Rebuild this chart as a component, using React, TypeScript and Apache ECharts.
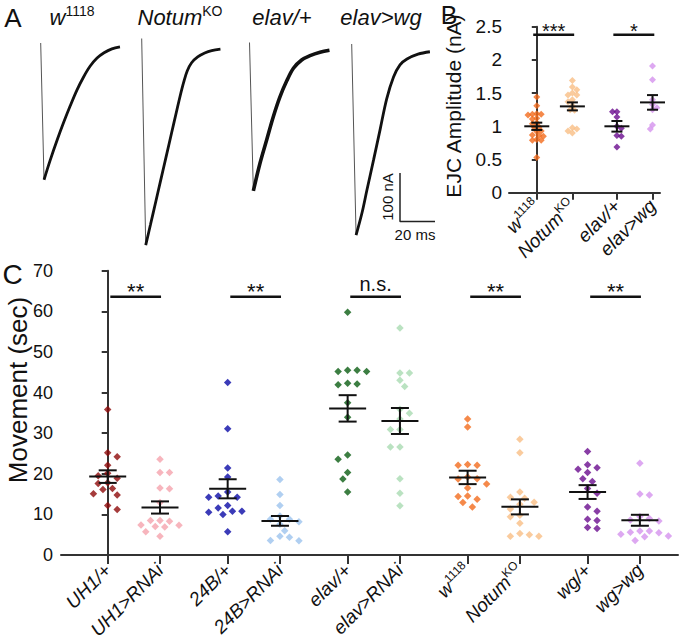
import { useEffect, useRef } from 'react';
import * as echarts from 'echarts';

const FONT = '"Liberation Sans", Arial, Helvetica, sans-serif';
const AXIS_COLOR = '#333';
const TEXT_COLOR = '#111';

// ---------- Panel A: EJC traces [time (ms), current (nA)] ----------
const traceTitles = ['w1118', 'NotumKO', 'elav/+', 'elav>wg'];
const traceW1118 = [[0, 0], [1.9, -282], [5.3, -243], [9.6, -198], [13.3, -162], [16.7, -131], [20.7, -97], [24.5, -70], [28.2, -48], [32.2, -31], [36.2, -20], [40.7, -12], [45.3, -8]];
const traceNotum = [[0, 0], [2.3, -426], [5, -384], [8, -337], [11, -290], [14, -243], [17, -196], [20, -149], [22, -118], [24, -90], [26, -67], [28.5, -50], [32, -38], [36, -30], [40, -25], [45, -22]];
const traceElav = [[0, 0], [2.2, -306], [6, -249], [9.8, -201], [13.6, -153], [17.4, -112], [21.3, -79], [25.1, -53], [29.8, -36], [34.6, -27], [40.3, -20], [45.7, -16]];
const traceElavWg = [[0, 0], [2.5, -394], [5.9, -348], [8.7, -301], [12.5, -239], [16.2, -177], [20, -113], [23.9, -68], [27.6, -43], [31.6, -31], [37.9, -21], [44.7, -16]];
const traces = [traceW1118, traceNotum, traceElav, traceElavWg];
const scaleBarTime = 20; // ms
const scaleBarCurrent = 100; // nA

// ---------- Panel B: EJC amplitude (nA) ----------
const ejcCategories = ['w1118', 'NotumKO', 'elav/+', 'elav>wg'];
const ejcW1118 = [1.44, 1.31, 1.19, 1.18, 1.18, 1.17, 1.12, 1.11, 1.05, 1.04, 0.99, 0.98, 0.93, 0.92, 0.87, 0.86, 0.85, 0.8, 0.79, 0.79, 0.53];
const ejcNotum = [1.69, 1.59, 1.55, 1.5, 1.47, 1.47, 1.4, 1.37, 1.31, 1.25, 1.24, 0.98, 0.96, 0.93, 0.9];
const ejcElav = [1.22, 1.22, 1.14, 1.0, 0.97, 0.86, 0.85, 0.69];
const ejcElavWg = [1.91, 1.7, 1.4, 1.33, 1.28, 1.25, 1.02, 0.96];
const ejcValues = [ejcW1118, ejcNotum, ejcElav, ejcElavWg];
const ejcMeans = [1.0, 1.3, 1.0, 1.36];
const ejcSems = [0.055, 0.06, 0.08, 0.11];
const ejcColors = ['#F26B1D', '#F9BE85', '#6A0D8E', '#D592EE'];
const ejcSig = ['***', '*'];
const ejcSigLevel = 2.38;

// ---------- Panel C: Movement (sec) ----------
const moveCategories = ['UH1/+', 'UH1>RNAi', '24B/+', '24B>RNAi', 'elav/+', 'elav>RNAi', 'w1118', 'NotumKO', 'wg/+', 'wg>wg'];
const moveUH1 = [35.8, 25.2, 24.2, 22.1, 20.1, 19.5, 18.9, 17.8, 17.6, 16.4, 16.1, 15.1, 14.8, 12.2, 11.2];
const moveUH1Rnai = [23.6, 20.3, 20.3, 16.5, 16.3, 12.9, 8.5, 8.5, 8.3, 7.4, 7.3, 7.0, 6.9, 5.7, 4.6];
const move24B = [42.5, 31.1, 21.4, 19.2, 15.5, 14.5, 14.2, 14.2, 12.2, 11.6, 10.8, 10.8, 10.5, 10.0, 5.7];
const move24BRnai = [18.6, 14.9, 12.2, 9.6, 8.8, 8.8, 8.2, 7.6, 6.0, 4.6, 4.4, 3.6, 3.5];
const moveElav = [59.8, 45.5, 45.5, 45.2, 45.2, 42.3, 42.1, 41.9, 37.5, 33.9, 24.6, 23.6, 20.3, 18.7, 15.5];
const moveElavRnai = [55.9, 44.8, 44.8, 43.0, 41.5, 35.9, 34.9, 33.5, 30.9, 30.9, 26.6, 26.6, 18.8, 15.2, 12.1];
const moveW1118 = [33.5, 31.5, 22.3, 22.1, 22.1, 19.2, 18.8, 18.7, 17.5, 16.5, 14.5, 14.4, 13.7, 12.9, 11.8];
const moveNotum = [28.5, 25.2, 15.5, 14.2, 14.0, 13.0, 12.5, 11.3, 9.8, 9.4, 7.8, 5.3, 5.0, 4.6, 4.6];
const moveWg = [25.5, 22.2, 21.5, 21.1, 20.3, 18.8, 18.1, 16.4, 15.2, 11.8, 10.8, 8.8, 8.5, 6.8, 6.5];
const moveWgWg = [22.6, 15.0, 14.8, 9.5, 9.0, 8.6, 8.4, 5.9, 5.9, 5.6, 5.5, 5.1, 4.7, 4.5, 3.6];
const moveValues = [moveUH1, moveUH1Rnai, move24B, move24BRnai, moveElav, moveElavRnai, moveW1118, moveNotum, moveWg, moveWgWg];
const moveMeans = [19.3, 11.7, 16.3, 8.4, 36.1, 33.0, 19.1, 11.85, 15.5, 8.55];
const moveSems = [1.55, 1.5, 2.35, 1.2, 3.25, 3.2, 1.65, 1.85, 1.7, 1.35];
const moveColors = ['#8E0A0A', '#F5A3AC', '#0A0AA6', '#9CC3EE', '#0B5E13', '#A9DBB2', '#F26B1D', '#F9BE85', '#6A0D8E', '#D592EE'];
const moveSig = ['**', '**', 'n.s.', '**', '**'];
const moveSigLevel = 63.6;

// ---------- layout ----------
const W = 683;
const H = 644;
const A_LEFT = [40.7, 141.7, 249.5, 351.7];
const A_TOP = [43, 38.5, 42.5, 44];
const A_W = 87.5; // 50 ms
const A_H = 218.25; // 450 nA

const B_LEFT = 509, B_TOP = 26.7, B_RIGHT = 23, B_BOTTOM = 451.3;
const B_XMIN = -0.78, B_XMAX = 3.46, B_YMAX = 2.5;
const C_LEFT = 61, C_TOP = 270.7, C_RIGHT = 5, C_BOTTOM = 89;
const C_XMIN = -0.893, C_XMAX = 10.905, C_YMAX = 70;

const posB = (i: number) => Math.floor(i / 2) * 2.25 + (i % 2);
const posC = (i: number) => Math.floor(i / 2) * 2.294 + (i % 2);

function swarm(values: number[], pxY: number, step: number, minDist: number): number[] {
  const order = values.map((_, i) => i).sort((a, b) => values[b] - values[a]);
  const placed: { x: number; y: number }[] = [];
  const out = new Array(values.length).fill(0);
  order.forEach((i, n) => {
    const y = values[i] * pxY;
    const sign = n % 2 === 0 ? 1 : -1;
    let chosen = 0;
    for (let k = 0; k < 60; k++) {
      const cand = k === 0 ? 0 : (k % 2 ? sign : -sign) * Math.ceil(k / 2) * step;
      if (placed.every((p) => Math.hypot(p.x - cand, p.y - y) >= minDist)) {
        chosen = cand;
        break;
      }
    }
    placed.push({ x: chosen, y });
    out[i] = chosen;
  });
  return out;
}

function richName(name: string): string {
  if (name === 'w1118') return '{i|w}{s|1118}';
  if (name === 'NotumKO') return '{i|Notum}{s|KO}';
  return '{i|' + name + '}';
}

function nearestIndex(v: number, posFn: (i: number) => number, n: number) {
  let best = 0;
  for (let i = 0; i < n; i++) if (Math.abs(posFn(i) - v) < Math.abs(posFn(best) - v)) best = i;
  return best;
}

function meanSemSeries(gridIdx: number, data: number[][], hw: number, cw: number) {
  return {
    type: 'custom',
    xAxisIndex: gridIdx,
    yAxisIndex: gridIdx,
    z: 10,
    encode: { x: 0, y: 1 },
    data,
    renderItem: (_p: any, api: any) => {
      const x = api.value(0), m = api.value(1), s = api.value(2);
      const c = api.coord([x, m]);
      const t = api.coord([x, m + s]);
      const b = api.coord([x, m - s]);
      const st = { stroke: '#111', lineWidth: 2 };
      return {
        type: 'group',
        children: [
          { type: 'line', shape: { x1: c[0] - hw, y1: c[1], x2: c[0] + hw, y2: c[1] }, style: st },
          { type: 'line', shape: { x1: t[0], y1: t[1], x2: b[0], y2: b[1] }, style: st },
          { type: 'line', shape: { x1: t[0] - cw, y1: t[1], x2: t[0] + cw, y2: t[1] }, style: st },
          { type: 'line', shape: { x1: b[0] - cw, y1: b[1], x2: b[0] + cw, y2: b[1] }, style: st },
        ],
      };
    },
  };
}

function sigSeries(gridIdx: number, data: number[][], labels: string[], fontSize: number, nsFont: number, starOff: number, nsOff: number) {
  return {
    type: 'custom',
    xAxisIndex: gridIdx,
    yAxisIndex: gridIdx,
    z: 10,
    encode: { x: [0, 1], y: 2 },
    data,
    renderItem: (p: any, api: any) => {
      const a = api.coord([api.value(0), api.value(2)]);
      const b = api.coord([api.value(1), api.value(2)]);
      const label = labels[p.dataIndex];
      const ns = label === 'n.s.';
      return {
        type: 'group',
        children: [
          { type: 'line', shape: { x1: a[0], y1: a[1], x2: b[0], y2: b[1] }, style: { stroke: '#111', lineWidth: 2.5 } },
          {
            type: 'text',
            x: (a[0] + b[0]) / 2,
            y: a[1] + (ns ? nsOff : starOff),
            style: {
              text: label,
              fill: TEXT_COLOR,
              fontSize: ns ? nsFont : fontSize,
              fontFamily: FONT,
              align: 'center',
              verticalAlign: 'middle',
              textAlign: 'center',
              textVerticalAlign: 'middle',
            },
          },
        ],
      };
    },
  };
}

function buildOption() {
  const grids: any[] = [];
  const xAxes: any[] = [];
  const yAxes: any[] = [];
  const series: any[] = [];

  // Panel A grids
  traces.forEach((tr, k) => {
    grids.push({ left: A_LEFT[k], top: A_TOP[k], width: A_W, height: A_H, outerBoundsMode: 'none' });
    xAxes.push({ type: 'value', gridIndex: k, min: 0, max: 50, show: false });
    yAxes.push({ type: 'value', gridIndex: k, min: -450, max: 0, show: false });
    let minIdx = 0;
    tr.forEach((p, i) => { if (p[1] < tr[minIdx][1]) minIdx = i; });
    series.push({
      type: 'line', xAxisIndex: k, yAxisIndex: k, data: tr.slice(0, minIdx + 1),
      showSymbol: false, lineStyle: { color: '#555', width: 1 }, silent: true,
    });
    series.push({
      type: 'line', xAxisIndex: k, yAxisIndex: k, data: tr.slice(minIdx),
      showSymbol: false, smooth: 0.35, lineStyle: { color: '#111', width: k === 2 ? 3.6 : 2.8 }, silent: true,
    });
  });
  // scale bar in last trace's coordinates
  const sbX = 27.6, sbY = -366;
  series.push({
    type: 'line', xAxisIndex: 3, yAxisIndex: 3,
    data: [[sbX, sbY + scaleBarCurrent], [sbX, sbY], [sbX + scaleBarTime, sbY]],
    showSymbol: false, lineStyle: { color: '#222', width: 1.5 }, silent: true,
  });

  const axisLineStyle = { color: AXIS_COLOR, width: 2 };
  const catRich = (fs: number) => ({
    i: { fontStyle: 'italic', fontSize: fs, fontFamily: FONT, color: TEXT_COLOR, lineHeight: fs + 4 },
    s: { fontSize: Math.round(fs * 0.65), fontFamily: FONT, color: TEXT_COLOR, verticalAlign: 'top', lineHeight: fs + 4 },
  });

  // Panel B grid (index 4)
  grids.push({ left: B_LEFT, top: B_TOP, right: B_RIGHT, bottom: B_BOTTOM, outerBoundsMode: 'none' });
  const bPos = ejcCategories.map((_, i) => posB(i));
  xAxes.push({
    type: 'value', gridIndex: 4, min: B_XMIN, max: B_XMAX,
    axisLine: { show: true, lineStyle: axisLineStyle },
    axisTick: { show: true, customValues: bPos, length: 7, lineStyle: axisLineStyle },
    axisLabel: {
      customValues: bPos, rotate: 45, margin: 10,
      formatter: (v: number) => richName(ejcCategories[nearestIndex(v, posB, ejcCategories.length)]),
      rich: catRich(19),
    },
    splitLine: { show: false },
  });
  yAxes.push({
    type: 'value', gridIndex: 4, min: 0, max: B_YMAX, interval: 0.5,
    axisLine: { show: true, lineStyle: axisLineStyle },
    axisTick: { show: true, length: 5, lineStyle: axisLineStyle },
    axisLabel: { fontSize: 19, fontFamily: FONT, color: TEXT_COLOR, margin: 7 },
    splitLine: { show: false },
  });

  const bPxX = (W - B_LEFT - B_RIGHT) / (B_XMAX - B_XMIN);
  const bPxY = (H - B_TOP - B_BOTTOM) / B_YMAX;
  ejcValues.forEach((vals, i) => {
    const off = swarm(vals, bPxY, 2.2, 4.4);
    series.push({
      type: 'scatter', xAxisIndex: 4, yAxisIndex: 4, symbol: 'diamond', symbolSize: 7,
      itemStyle: { color: ejcColors[i] }, silent: true,
      data: vals.map((v, j) => [posB(i) + off[j] / bPxX, v]),
    });
  });
  series.push(meanSemSeries(4, ejcMeans.map((m, i) => [posB(i), m, ejcSems[i]]), 12.5, 5.5));
  series.push(sigSeries(4, ejcSig.map((_, k) => [posB(2 * k) - 0.1, posB(2 * k + 1) + 0.05, ejcSigLevel]), ejcSig, 20, 20, -4, -12));

  // Panel C grid (index 5)
  grids.push({ left: C_LEFT, top: C_TOP, right: C_RIGHT, bottom: C_BOTTOM, outerBoundsMode: 'none' });
  const cPos = moveCategories.map((_, i) => posC(i));
  xAxes.push({
    type: 'value', gridIndex: 5, min: C_XMIN, max: C_XMAX,
    axisLine: { show: true, lineStyle: axisLineStyle },
    axisTick: { show: true, customValues: cPos, length: 9, lineStyle: axisLineStyle },
    axisLabel: {
      customValues: cPos, rotate: 45, margin: 12,
      formatter: (v: number) => richName(moveCategories[nearestIndex(v, posC, moveCategories.length)]),
      rich: catRich(19),
    },
    splitLine: { show: false },
  });
  yAxes.push({
    type: 'value', gridIndex: 5, min: 0, max: C_YMAX, interval: 10,
    axisLine: { show: true, lineStyle: axisLineStyle },
    axisTick: { show: true, length: 6, lineStyle: axisLineStyle },
    axisLabel: { fontSize: 18, fontFamily: FONT, color: TEXT_COLOR, margin: 8 },
    splitLine: { show: false },
  });
  const cPxX = (W - C_LEFT - C_RIGHT) / (C_XMAX - C_XMIN);
  const cPxY = (H - C_TOP - C_BOTTOM) / C_YMAX;
  moveValues.forEach((vals, i) => {
    const off = swarm(vals, cPxY, 4.75, 7.2);
    series.push({
      type: 'scatter', xAxisIndex: 5, yAxisIndex: 5, symbol: 'diamond', symbolSize: 7.5,
      itemStyle: { color: moveColors[i] }, silent: true,
      data: vals.map((v, j) => [posC(i) + off[j] / cPxX, v]),
    });
  });
  series.push(meanSemSeries(5, moveMeans.map((m, i) => [posC(i), m, moveSems[i]]), 18.5, 9));
  series.push(sigSeries(5, moveSig.map((_, k) => [posC(2 * k) + 0.05, posC(2 * k + 1) + 0.02, moveSigLevel]), moveSig, 22, 20, -5, -13));

  const titleRich = {
    i: { fontStyle: 'italic', fontSize: 22, fontFamily: FONT, color: TEXT_COLOR, lineHeight: 26 },
    s: { fontSize: 14, fontFamily: FONT, color: TEXT_COLOR, verticalAlign: 'top', lineHeight: 26 },
  };
  const titleX = [72, 180, 282, 381];
  const textEl = (x: number, y: number, text: string, fontSize: number, rotation = 0, extra: any = {}) => ({
    type: 'text', x, y, rotation,
    style: {
      text, fontSize, fontFamily: FONT, fill: TEXT_COLOR,
      textAlign: 'center', textVerticalAlign: 'middle', align: 'center', verticalAlign: 'middle', ...extra,
    },
  });

  const graphic: any[] = [
    textEl(13, 18, 'A', 26),
    textEl(449, 15, 'B', 25),
    textEl(12.5, 274, 'C', 28),
    ...traceTitles.map((t, k) => textEl(titleX[k], 17, richName(t), 22, 0, { rich: titleRich })),
    textEl(387, 197, '100 nA', 15, Math.PI / 2),
    textEl(415, 234, '20 ms', 15),
    textEl(453, 106, 'EJC Amplitude (nA)', 21, Math.PI / 2),
    textEl(18, 390, 'Movement (sec)', 26, Math.PI / 2),
  ];

  return {
    animation: false,
    backgroundColor: '#fff',
    textStyle: { fontFamily: FONT },
    grid: grids,
    xAxis: xAxes,
    yAxis: yAxes,
    series,
    graphic,
  };
}

export default function App() {
  const ref = useRef<HTMLDivElement>(null);
  useEffect(() => {
    document.body.style.margin = '0';
    if (!ref.current) return;
    const chart = echarts.init(ref.current, undefined, { renderer: 'svg' });
    chart.setOption(buildOption() as any);
    return () => chart.dispose();
  }, []);
  return <div ref={ref} style={{ width: W, height: H }} />;
}
